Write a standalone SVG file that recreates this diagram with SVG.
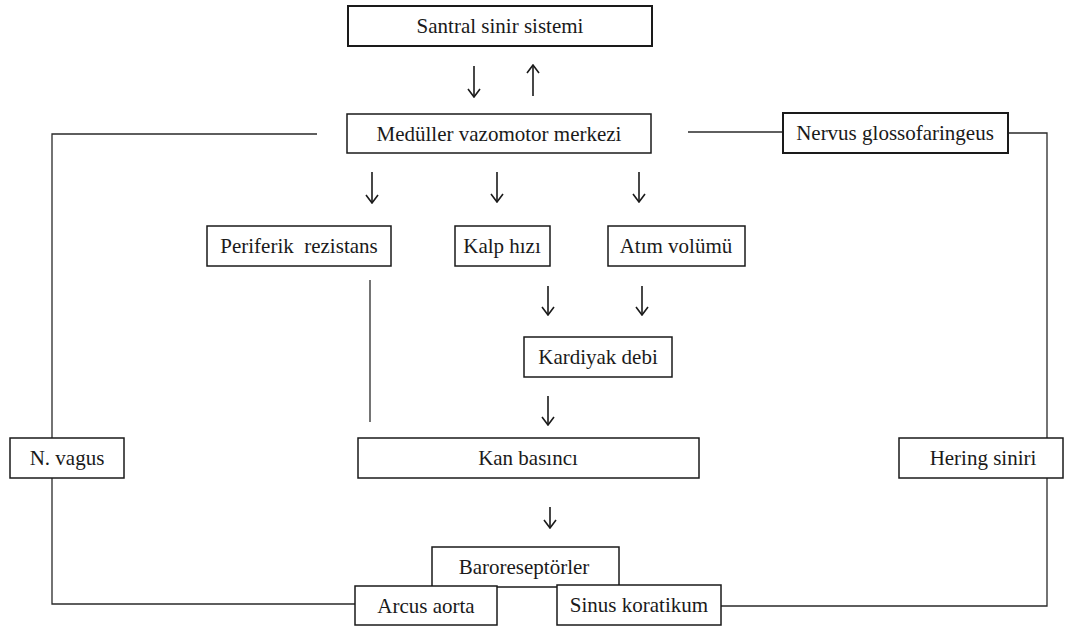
<svg xmlns="http://www.w3.org/2000/svg" width="1066" height="628" viewBox="0 0 1066 628">
<defs>
<style>
.box{fill:#fff;stroke:#1a1a1a;stroke-width:1.5}
.thick{stroke-width:2}
.lbl{font-family:"Liberation Serif","Times New Roman",serif;font-size:21px;fill:#1a1a1a;text-anchor:middle}
.ln{fill:none;stroke:#2a2a2a;stroke-width:1.3}
.ar{fill:none;stroke:#1a1a1a;stroke-width:1.6;marker-end:url(#vh)}
</style>
<marker id="vh" viewBox="-10 -7 11 14" refX="0" refY="0" markerWidth="11" markerHeight="14" markerUnits="userSpaceOnUse" orient="auto">
<path d="M-8,-6 L0,0 L-8,6" fill="none" stroke="#1a1a1a" stroke-width="1.6"/>
</marker>
</defs>
<rect width="1066" height="628" fill="#fff"/>
<g id="connectors">
<path class="ln" d="M317,134 H52 V438"/>
<path class="ln" d="M52,478 V604 H355"/>
<path class="ln" d="M688,132 H783"/>
<path class="ln" d="M1008,133 H1047 V438"/>
<path class="ln" d="M1047,478 V606 H721"/>
<path class="ln" d="M370,280 V422"/>
<path class="ar" d="M474,66 V97"/>
<path class="ar" d="M533,96 V65"/>
<path class="ar" d="M372,172 V203"/>
<path class="ar" d="M497,172 V202"/>
<path class="ar" d="M639,172 V202"/>
<path class="ar" d="M548,286 V315"/>
<path class="ar" d="M642,286 V315"/>
<path class="ar" d="M548,396 V425"/>
<path class="ar" d="M550,507 V528"/>
</g>
<g id="n-santral"><rect class="box thick" x="348" y="6" width="304" height="40"/><text class="lbl" x="500" y="33">Santral sinir sistemi</text></g>
<g id="n-meduller"><rect class="box" x="347" y="114" width="304" height="39"/><text class="lbl" x="499" y="141">Medüller vazomotor merkezi</text></g>
<g id="n-nervus"><rect class="box thick" x="783" y="113" width="225" height="40"/><text class="lbl" x="895" y="140">Nervus glossofaringeus</text></g>
<g id="n-periferik"><rect class="box" x="207" y="226" width="184" height="40"/><text class="lbl" x="299" y="253" xml:space="preserve">Periferik  rezistans</text></g>
<g id="n-kalp"><rect class="box" x="455" y="226" width="95" height="40"/><text class="lbl" x="502" y="253">Kalp hızı</text></g>
<g id="n-atim"><rect class="box" x="608" y="226" width="137" height="40"/><text class="lbl" x="676" y="253">Atım volümü</text></g>
<g id="n-kardiyak"><rect class="box" x="524" y="337" width="148" height="40"/><text class="lbl" x="598" y="364">Kardiyak debi</text></g>
<g id="n-vagus"><rect class="box" x="10" y="438" width="114" height="40"/><text class="lbl" x="67" y="465">N. vagus</text></g>
<g id="n-kan"><rect class="box" x="358" y="438" width="341" height="40"/><text class="lbl" x="528" y="465">Kan basıncı</text></g>
<g id="n-hering"><rect class="box" x="899" y="438" width="164" height="40"/><text class="lbl" x="983" y="465">Hering siniri</text></g>
<g id="n-baro"><rect class="box" x="432" y="547" width="187" height="40"/><text class="lbl" x="524" y="574">Baroreseptörler</text></g>
<g id="n-arcus"><rect class="box" x="355" y="586" width="142" height="39"/><text class="lbl" x="426" y="613">Arcus aorta</text></g>
<g id="n-sinus"><rect class="box" x="557" y="585" width="164" height="40"/><text class="lbl" x="639" y="612">Sinus koratikum</text></g>
</svg>
